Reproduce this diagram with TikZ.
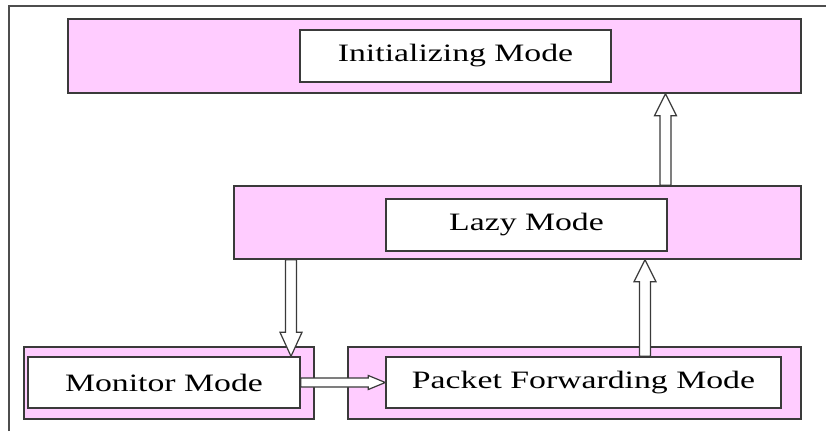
\documentclass[tikz,border=0pt]{standalone}
\usepackage{fontspec}
\usetikzlibrary{calc}
\newfontfamily\labelfont[FakeStretch=1.35]{Liberation Serif}
\definecolor{bandpink}{RGB}{255,204,255}
\definecolor{edge}{RGB}{58,58,58}

% hollow block arrow: #1 from, #2 to, #3 shaft half-width, #4 head half-width, #5 head length
\newcommand\blockarrow[5]{%
  \coordinate (ba-hb) at ($#2!#5!#1$);
  \draw[arrowline]
    ($#1!#3!90:#2$) -- ($(ba-hb)!#3!90:#2$) -- ($(ba-hb)!#4!90:#2$) -- #2
    -- ($(ba-hb)!#4!-90:#2$) -- ($(ba-hb)!#3!-90:#2$) -- ($#1!#3!-90:#2$) -- cycle;
}

\begin{document}
\begin{tikzpicture}[x=1pt,y=-1pt,
  band/.style={draw=edge, line width=1.4pt, fill=bandpink, rectangle, inner sep=0pt},
  modebox/.style={draw=edge, line width=1.4pt, fill=white, rectangle, inner sep=0pt,
    font=\labelfont\fontsize{25}{28}\selectfont},
  arrowline/.style={draw=edge, line width=1.2pt, fill=white, line join=miter},
  frameline/.style={draw=edge!90, line width=1.5pt}]
\useasboundingbox (0,0) rectangle (826,431);

% open frame: top and left edges only
\coordinate (fr-tl) at (9,6);
\coordinate (fr-tr) at (826,6);
\coordinate (fr-bl) at (9,431);
\draw[frameline] (fr-bl) -- (fr-tl) -- (fr-tr);

% mode bands and their labelled boxes
\node[band, minimum width=733pt, minimum height=74pt] (initband) at (434.5,56) {};
\node[modebox, minimum width=311pt, minimum height=52pt] (initbox) at (455.5,56) {Initializing Mode};

\node[band, minimum width=567pt, minimum height=73pt] (lazyband) at (517.5,222.5) {};
\node[modebox, minimum width=281pt, minimum height=52pt] (lazybox) at (526.5,225) {Lazy Mode};

\node[band, minimum width=290pt, minimum height=72pt] (monband) at (169,383) {};
\node[modebox, minimum width=272pt, minimum height=51pt] (monbox) at (164,382.5) {Monitor Mode};

\node[band, minimum width=453pt, minimum height=72pt] (pktband) at (574.5,383) {};
\node[modebox, minimum width=395pt, minimum height=51pt] (pktbox) at (583.5,382.5) {Packet Forwarding Mode};

% arrow columns
\coordinate (xup1) at (665.5,0);
\coordinate (xdown) at (291,0);
\coordinate (xup2) at (645,0);

% transitions
\blockarrow{(lazyband.north -| xup1)}{(initband.south -| xup1)}{5.5pt}{11pt}{22pt}
\blockarrow{(lazyband.south -| xdown)}{(monbox.north -| xdown)}{5.5pt}{11pt}{24pt}
\blockarrow{(monbox.east)}{(pktbox.west)}{4.5pt}{7pt}{17pt}
\blockarrow{(pktbox.north -| xup2)}{(lazyband.south -| xup2)}{5.5pt}{11pt}{22pt}
\end{tikzpicture}
\end{document}
